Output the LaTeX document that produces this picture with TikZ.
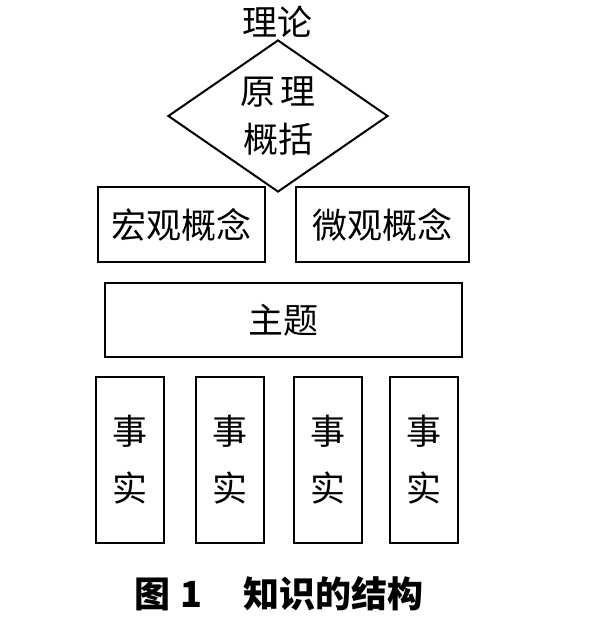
\documentclass[tikz,border=0pt]{standalone}
\usepackage{fontspec}
\usepackage{tikz}
\usetikzlibrary{shapes.geometric}
\newfontfamily\cjk{Noto Sans CJK SC}

\tikzset{
  kbox/.style={draw,line width=2pt,inner sep=0pt,
    font=\cjk\fontsize{35}{48}\selectfont,align=center},
  kdiamond/.style={kbox,diamond,minimum width=220pt,minimum height=152pt,aspect=1.45},
}

\begin{document}
\begin{tikzpicture}[x=1pt,y=-1pt]
    \useasboundingbox (0,0) rectangle (600,619);
    \node[font=\cjk\fontsize{35}{40}\selectfont] (theory) at (277,22) {理论};
    \node[kdiamond] (principle) at (278,116) {原\,理\\概括};
    % concepts
    \node[kbox,minimum width=167pt,minimum height=75pt] (macro) at (181.5,224.5) {宏观概念};
    \node[kbox,minimum width=173pt,minimum height=75pt] (micro) at (382.5,224.5) {微观概念};
    \node[kbox,minimum width=357pt,minimum height=74pt] (topic) at (283.5,320) {主题};
    % facts
    \foreach \i/\x in {1/130,2/230,3/328,4/424}
        \node[kbox,minimum width=68pt,minimum height=166pt,
              font=\cjk\fontsize{35}{57}\selectfont] (fact\i) at (\x,460) {事\\实};
    \node[font=\cjk\bfseries\fontsize{36}{40}\selectfont] (caption) at (279,594) {图\hspace{10pt}1\hspace{42pt}知识的结构};
\end{tikzpicture}
\end{document}
